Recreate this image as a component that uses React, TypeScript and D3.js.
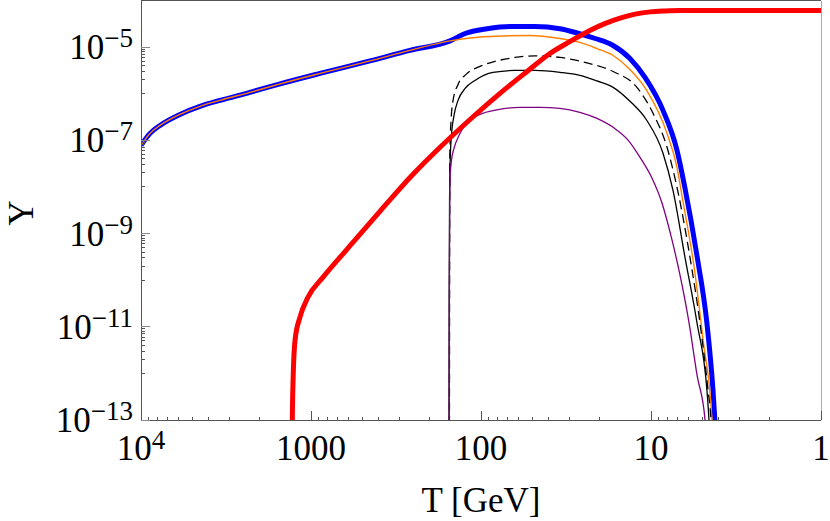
import React, {useEffect, useRef} from 'react';
import * as d3 from 'd3';

// Shared early part (blue and orange coincide above the kink)
const earlyT = [10000, 8850, 7730, 5900, 4500, 3430, 2285, 1520, 885, 450, 262, 152];
const earlyY = [7.8e-8, 1.41e-7, 2.09e-7, 3.6e-7, 5.36e-7, 7.2e-7, 1.07e-6, 1.63e-6, 2.73e-6, 5.06e-6, 8.5e-6, 1.36e-5];

const blueLateT = [124, 92.2, 67.5, 48.1, 34.3, 27.2, 21.3, 16.9, 13.3, 10.85, 8.5, 7.03, 6.31, 5.36, 4.69, 4.32, 4.21, 4.15];
const blueLateY = [1.96e-5, 2.48e-5, 2.77e-5, 2.77e-5, 2.48e-5, 2.01e-5, 1.53e-5, 1.11e-5, 5.7e-6, 2.24e-6, 4.4e-7, 6.1e-8, 9.35e-9, 3.27e-10, 1.2e-11, 4.4e-13, 1e-13, 4e-14];

const orangeLateT = [116, 77.3, 51.5, 34.3, 26.2, 20.8, 16.7, 13.3, 10.6, 8.05, 7.03, 6.58, 5.51, 4.94, 4.38, 4.33];
const orangeLateY = [1.57e-5, 1.73e-5, 1.78e-5, 1.53e-5, 1.26e-5, 9.3e-6, 6.6e-6, 3.3e-6, 1.18e-6, 1.41e-7, 2.6e-8, 6.6e-9, 1.4e-10, 5.2e-12, 1e-13, 4e-14];

const dashedT = [153.4, 153.3, 153, 152.3, 150, 146, 136.5, 122.5, 101.4, 82.8, 63.1, 48.1, 34.3, 23.8, 16.7, 12.1, 9.73, 8.05, 7.03, 5.9, 5.15, 4.62, 4.44, 4.4];
const dashedY = [1e-14, 1e-13, 4.4e-10, 6.1e-8, 2.7e-7, 7.2e-7, 1.58e-6, 2.6e-6, 3.86e-6, 4.93e-6, 6.0e-6, 6.5e-6, 6.0e-6, 4.6e-6, 3.0e-6, 1.37e-6, 3.8e-7, 7.1e-8, 9.8e-9, 3.1e-10, 1.2e-11, 4.4e-13, 1e-13, 5e-14];

const solidT = [154.4, 154.3, 153.9, 153.1, 151.8, 149.2, 144.2, 136.5, 124, 108.5, 85, 63.1, 48.1, 34.3, 26.2, 20.8, 16.7, 13.3, 10.6, 8.5, 7.43, 6.31, 5.36, 4.69, 4.56, 4.52];
const solidY = [1e-14, 1e-13, 3.7e-11, 5.2e-9, 3.7e-8, 1.28e-7, 3.4e-7, 7.2e-7, 1.3e-6, 1.93e-6, 2.87e-6, 3.16e-6, 3.16e-6, 2.87e-6, 2.47e-6, 1.88e-6, 1.37e-6, 6.9e-7, 2.7e-7, 5.3e-8, 8.5e-9, 3.1e-10, 1.2e-11, 4.4e-13, 1e-13, 5e-14];

const purpleT = [153.8, 153.7, 153.5, 152.8, 151.8, 149.2, 144.2, 134.6, 120.8, 101.4, 80.6, 59, 45, 34.3, 26.2, 20.8, 16.7, 13.6, 11.6, 9.86, 8.61, 7.62, 6.75, 5.97, 5.36, 4.81, 4.76];
const purpleY = [1e-14, 1e-13, 3.7e-11, 5.2e-9, 1.78e-8, 3.7e-8, 6.7e-8, 1.28e-7, 2.43e-7, 3.6e-7, 4.5e-7, 5.1e-7, 5.1e-7, 4.85e-7, 4.0e-7, 2.96e-7, 1.9e-7, 1e-7, 4.3e-8, 1.53e-8, 4.47e-9, 8.77e-10, 1.28e-10, 1.2e-11, 9.2e-13, 1e-13, 5e-14];

const redT = [1290, 1288, 1271, 1241, 1161, 1042, 849, 614, 393, 251, 174, 116, 77.3, 53.6, 39.3, 29.2, 22.9, 18.7, 15.2, 12.4, 10.1, 8.28, 6.75, 2.62, 1];
const redY = [1e-14, 1e-13, 1.02e-12, 5.2e-12, 1.61e-11, 4.3e-11, 1.16e-10, 4.6e-10, 3.0e-9, 1.87e-8, 7.1e-8, 2.8e-7, 1.02e-6, 3.0e-6, 7.3e-6, 1.39e-5, 2.28e-5, 3.2e-5, 4.2e-5, 5.1e-5, 5.7e-5, 5.96e-5, 6.1e-5, 6.1e-5, 6.1e-5];

// Ticks
const xTickValues = [10000, 1000, 100, 10, 1];
const xTickLabels = [
  {base: '10', sup: '4'},
  {base: '1000', sup: ''},
  {base: '100', sup: ''},
  {base: '10', sup: ''},
  {base: '1', sup: ''},
];
const yTickExponents = [-13, -11, -9, -7, -5];
const yMinorExponents = [-12, -10, -8, -6];

const FONT = '"Liberation Serif", "Times New Roman", serif';

const zip = (t: number[], y: number[]) => t.map((v, i) => ({t: v, y: y[i]}));

const App: React.FC = () => {
  const svgRef = useRef<SVGSVGElement | null>(null);
  const width = 830;
  const height = 521;

  useEffect(() => {
    if (!svgRef.current) return;
    const svg = d3.select(svgRef.current);
    svg.selectAll('*').remove();

    const left = 141;
    const right = 821;
    const top = 0.5;
    const bottom = 420;

    const x = d3.scaleLog().domain([1e4, 1]).range([left, right]);
    const y = d3.scaleLog().domain([1e-13, 1e-4]).range([bottom, top]);

    svg
      .append('defs')
      .append('clipPath')
      .attr('id', 'plot-clip')
      .append('rect')
      .attr('x', left)
      .attr('y', top)
      .attr('width', right - left)
      .attr('height', bottom - top);

    const line = d3
      .line<{t: number; y: number}>()
      .x((d) => x(d.t))
      .y((d) => y(d.y))
      .curve(d3.curveMonotoneX);

    const plot = svg.append('g').attr('clip-path', 'url(#plot-clip)');

    const series = [
      {data: zip(earlyT.concat(blueLateT), earlyY.concat(blueLateY)), color: '#0000ff', w: 5, dash: null},
      {data: zip(earlyT.concat(orangeLateT), earlyY.concat(orangeLateY)), color: '#ff8000', w: 1.4, dash: null},
      {data: zip(dashedT, dashedY), color: '#000000', w: 1.3, dash: '9,5'},
      {data: zip(solidT, solidY), color: '#000000', w: 1.3, dash: null},
      {data: zip(purpleT, purpleY), color: '#800080', w: 1.3, dash: null},
      {data: zip(redT, redY), color: '#ff0000', w: 5, dash: null},
    ];

    series.forEach((s) => {
      plot
        .append('path')
        .attr('d', line(s.data))
        .attr('fill', 'none')
        .attr('stroke', s.color)
        .attr('stroke-width', s.w)
        .attr('stroke-dasharray', s.dash);
    });

    // frame
    const frame = svg.append('g').attr('shape-rendering', 'crispEdges');
    frame.append('line').attr('x1', left).attr('x2', right).attr('y1', bottom).attr('y2', bottom).attr('stroke', '#555');
    frame.append('line').attr('x1', left).attr('x2', left).attr('y1', top).attr('y2', bottom).attr('stroke', '#555');
    frame.append('line').attr('x1', left).attr('x2', right).attr('y1', top).attr('y2', top).attr('stroke', '#555');
    frame.append('line').attr('x1', right).attr('x2', right).attr('y1', top).attr('y2', bottom).attr('stroke', '#aaa');

    // x ticks
    const xMinor: number[] = [];
    for (let k = 0; k < 4; k++) for (let m = 2; m <= 9; m++) xMinor.push(m * Math.pow(10, k));
    xMinor.forEach((v) => {
      frame.append('line').attr('x1', x(v)).attr('x2', x(v)).attr('y1', bottom).attr('y2', bottom - 3).attr('stroke', '#555');
    });
    xTickValues.forEach((v) => {
      frame.append('line').attr('x1', x(v)).attr('x2', x(v)).attr('y1', bottom).attr('y2', bottom - 9).attr('stroke', '#555');
    });

    // y ticks
    yMinorExponents.forEach((e) => {
      for (let m = 1; m <= 9; m++) {
        const v = m * Math.pow(10, e);
        frame.append('line').attr('x1', left).attr('x2', left + 3.5).attr('y1', y(v)).attr('y2', y(v)).attr('stroke', '#555');
      }
    });
    yTickExponents.forEach((e) => {
      const v = Math.pow(10, e);
      frame.append('line').attr('x1', left).attr('x2', left + 9).attr('y1', y(v)).attr('y2', y(v)).attr('stroke', '#888');
    });

    // tick labels
    const labels = svg.append('g').attr('font-family', FONT).attr('fill', '#000');
    xTickValues.forEach((v, i) => {
      const t = labels
        .append('text')
        .attr('x', x(v))
        .attr('y', 460)
        .attr('text-anchor', 'middle')
        .attr('font-size', 35);
      t.append('tspan').text(xTickLabels[i].base);
      if (xTickLabels[i].sup) {
        t.append('tspan').attr('font-size', 27).attr('dy', -11).text(xTickLabels[i].sup);
      }
    });
    yTickExponents.forEach((e) => {
      const t = labels
        .append('text')
        .attr('x', 133)
        .attr('y', y(Math.pow(10, e)) + 12)
        .attr('text-anchor', 'end')
        .attr('font-size', 35);
      t.append('tspan').text('10');
      t.append('tspan').attr('font-size', 27).attr('dy', -12).text('\u2212' + Math.abs(e));
    });

    // axis titles
    labels
      .append('text')
      .attr('x', (left + right) / 2)
      .attr('y', 512)
      .attr('text-anchor', 'middle')
      .attr('font-size', 35)
      .text('T [GeV]');
    labels
      .append('text')
      .attr('transform', 'translate(33,213) rotate(-90)')
      .attr('text-anchor', 'middle')
      .attr('font-size', 35)
      .text('Y');
  }, []);

  return (
    <svg
      ref={svgRef}
      width={width}
      height={height}
      style={{position: 'absolute', left: 0, top: 0, background: '#fff'}}
    />
  );
};

export default App;
